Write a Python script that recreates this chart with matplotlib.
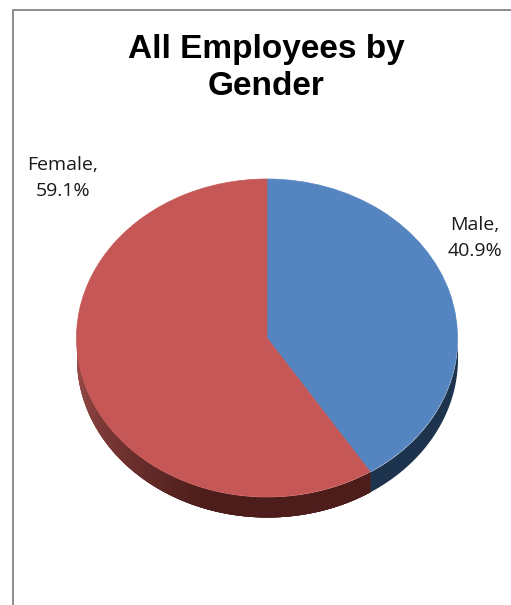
import numpy as np
import matplotlib
matplotlib.use("Agg")
import matplotlib.pyplot as plt
from matplotlib.lines import Line2D

categories = ["Male", "Female"]
shares = [40.9, 59.1]
colors = ["#5585C1", "#C55856"]
title = "All Employees by\nGender"

W, H = 511, 605
CX, CY, RX, RY, DEPTH = 267, 338, 190.5, 159, 20

fig = plt.figure(figsize=(W / 100, H / 100), dpi=100, facecolor="white")
ax = fig.add_axes([0, 0, 1, 1])

# rim (3-D side of the pie), drawn as thin shaded strips along each slice's arc
d = DEPTH / RY
boundary = 360 + 90 - 3.6 * shares[0]
light, dark = np.array([0.62, 0.31, 0.30]), np.array([0.30, 0.115, 0.105])

angles = np.linspace(180, boundary, 240)
for a0, a1 in zip(angles[:-1], angles[1:]):
    t = np.radians(np.linspace(a0, min(a1 + 1.5, boundary), 6))
    f = np.clip((a0 - 180) / 70, 0, 1)
    ax.fill_between(np.cos(t), np.sin(t) - d, np.sin(t),
                    color=tuple(light + (dark - light) * f), lw=0)
t = np.radians(np.linspace(boundary, 360, 80))
ax.fill_between(np.cos(t), np.sin(t) - d, np.sin(t), color="#1D334E", lw=0)

wedges, _ = ax.pie(shares, colors=colors, startangle=90, counterclock=False, radius=1)
for w, c in zip(wedges, colors):
    w.set_edgecolor(c)
    w.set_linewidth(0.5)
ax.set_aspect("auto")
ax.set_xlim(-CX / RX, (W - CX) / RX)
ax.set_ylim(-(H - CY) / RY, CY / RY)
ax.axis("off")

def px(x, y):
    return x / W, 1 - y / H

lab = dict(family="Open Sans", fontsize=14, color="#1a1a1a", ha="center", va="center",
           linespacing=1.5, transform=fig.transFigure)
for cat, share, pos in zip(categories, shares, [(475, 238), (63, 178)]):
    fig.text(*px(*pos), f"{cat},\n{share}%", **lab)

fig.text(*px(266, 68), title, family="Liberation Sans", fontweight="bold", fontsize=24,
         color="black", ha="center", va="center", linespacing=1.22)

fig.add_artist(Line2D([12.5 / W, 12.5 / W, 1], [0, 1 - 9.5 / H, 1 - 9.5 / H],
                      transform=fig.transFigure, color="#8c8c8c", lw=1.4))
fig.savefig("out.png", dpi=100)
